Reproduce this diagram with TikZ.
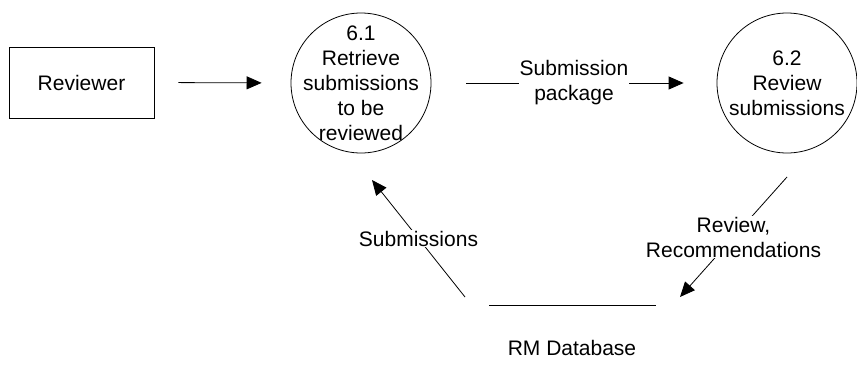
\documentclass[tikz,border=0pt]{standalone}
\usepackage{fontspec}
\setmainfont{Liberation Sans}
\usetikzlibrary{arrows.meta}
\begin{document}
\begin{tikzpicture}[x=1pt,y=-1pt,
  every node/.style={font=\fontsize{21}{25}\selectfont},
  line/.style={line width=0.8pt},
  arr/.style={line width=0.8pt,-{Triangle[length=15pt,width=13pt]}},
  entity/.style={draw,line width=0.8pt,minimum width=145pt,minimum height=71pt,inner sep=0pt},
  proc/.style={draw,circle,line width=0.8pt,minimum size=140pt,inner sep=0pt},
  txt/.style={align=center,inner sep=0pt},
  flowlbl/.style={align=center,fill=white,inner sep=1pt}]
\useasboundingbox (0,0) rectangle (857,386);
\node[entity] (rev) at (81.5,82.5) {Reviewer};
\node[proc] (p1) at (361,83) {};
\node[txt] (p1t) at (p1) {6.1\\Retrieve\\submissions\\to be\\reviewed};
\node[proc] (p2) at (787,83) {};
\node[txt] (p2t) at (p2) {6.2\\Review\\submissions};
\coordinate (dbL) at (489,305);
\coordinate (dbR) at (656,305);
\draw[line] (dbL) -- (dbR);
\node[txt] (db) at (572,348) {RM Database};
% flows
\draw[arr,shorten <=24pt,shorten >=29pt] (rev.east) -- (p1.west);
\draw[arr,shorten <=35pt,shorten >=33pt] (p1.east) -- node[flowlbl]{Submission\\package} (p2.west);
\coordinate (r1) at (787,177);
\coordinate (r2) at (680,297);
\draw[arr] (r1) -- node[flowlbl]{Review,\\Recommendations} (r2);
\coordinate (s1) at (465,297);
\coordinate (s2) at (372,180);
\draw[arr] (s1) -- node[flowlbl]{Submissions} (s2);
\end{tikzpicture}
\end{document}
